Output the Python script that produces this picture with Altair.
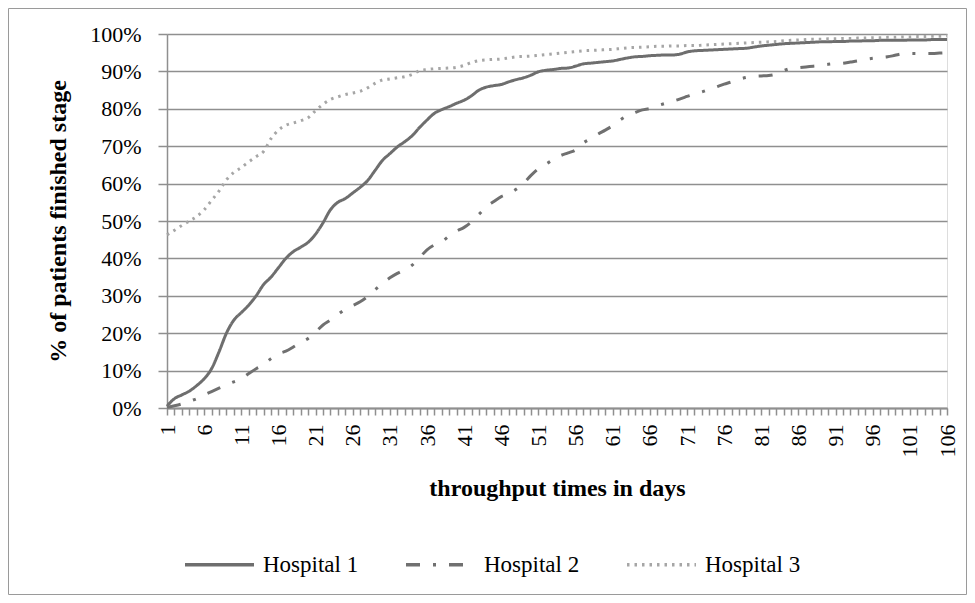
import altair as alt
import pandas as pd

# ---------------- data (in %) ----------------
days = list(range(1, 107))
series_names = ["Hospital 1", "Hospital 2", "Hospital 3"]

hospital_1 = [
    0.5, 2.5, 3.5, 4.5, 6.0, 7.8, 10.5, 15.0, 20.0, 23.5,
    25.5, 27.5, 30.0, 33.0, 35.0, 37.5, 40.0, 41.8, 43.0, 44.3,
    46.5, 49.5, 53.0, 55.0, 56.0, 57.5, 59.0, 60.8, 63.5, 66.2,
    68.0, 69.8, 71.2, 72.8, 75.0, 77.0, 78.8, 79.8, 80.6, 81.5,
    82.3, 83.5, 85.0, 85.8, 86.2, 86.5, 87.2, 87.8, 88.3, 89.0,
    89.9, 90.3, 90.5, 90.8, 90.9, 91.4, 92.0, 92.2, 92.4, 92.6,
    92.8, 93.2, 93.6, 93.9, 94.0, 94.2, 94.3, 94.4, 94.4, 94.6,
    95.2, 95.5, 95.6, 95.7, 95.8, 95.9, 96.0, 96.1, 96.2, 96.5,
    96.8, 97.0, 97.2, 97.4, 97.5, 97.6, 97.7, 97.8, 97.9, 97.9,
    98.0, 98.0, 98.1, 98.1, 98.2, 98.2, 98.3, 98.3, 98.3, 98.3,
    98.4, 98.4, 98.4, 98.5, 98.5, 98.5,
]
hospital_2 = [
    0.2, 0.6, 1.1, 1.8, 2.5, 3.5, 4.4, 5.3, 6.2, 7.0,
    7.8, 9.2, 10.5, 11.5, 13.2, 14.5, 15.2, 16.3, 17.5, 18.6,
    20.3, 22.2, 23.5, 25.0, 26.4, 27.4, 28.4, 29.8, 31.6, 33.3,
    34.8, 36.0, 37.0, 38.2, 40.2, 42.3, 43.6, 44.5, 46.0, 47.3,
    48.3, 49.8, 51.8, 53.8, 55.2, 56.5, 57.3, 58.5, 60.1, 62.2,
    64.0, 65.2, 66.4, 67.5, 68.2, 69.0, 70.8, 72.0, 73.2, 74.3,
    75.5, 77.0, 78.2, 79.0, 79.7, 80.1, 80.8, 81.4, 82.0, 82.6,
    83.3, 84.0, 84.5, 85.2, 85.9, 86.6, 87.2, 87.9, 88.4, 88.7,
    88.8, 88.9, 89.3, 90.2, 90.8, 91.0, 91.2, 91.4, 91.6, 91.9,
    92.1, 92.2, 92.5, 92.8, 93.2, 93.5, 93.7, 93.9, 94.3, 94.7,
    94.8, 94.8, 94.8, 94.8, 94.9, 95.0,
]
hospital_3 = [
    46.3, 47.5, 48.8, 50.0, 51.2, 53.0, 55.5, 58.0, 61.0, 63.0,
    64.3, 65.8, 67.2, 68.6, 72.0, 74.3, 75.6, 76.2, 76.8, 77.6,
    79.5, 81.2, 82.5, 83.2, 83.8, 84.2, 84.7, 85.6, 86.8, 87.7,
    88.0, 88.3, 88.6, 89.2, 90.2, 90.5, 90.7, 90.8, 90.9, 91.1,
    91.6, 92.4, 92.9, 93.1, 93.2, 93.3, 93.6, 93.9, 94.0, 94.1,
    94.3, 94.5, 94.7, 94.9, 95.1, 95.3, 95.5, 95.6, 95.7, 95.8,
    95.9, 96.1, 96.3, 96.4, 96.5, 96.6, 96.7, 96.7, 96.8, 96.8,
    96.9, 96.9, 97.0, 97.1, 97.2, 97.3, 97.4, 97.5, 97.6, 97.7,
    97.8, 97.9, 98.0, 98.2, 98.3, 98.4, 98.5, 98.6, 98.6, 98.7,
    98.7, 98.8, 98.8, 98.9, 98.9, 99.0, 99.0, 99.1, 99.1, 99.2,
    99.2, 99.3, 99.3, 99.4, 99.4, 99.5,
]
y_ticks = [i / 10 for i in range(11)]

rows = []
for name, vals in zip(series_names, [hospital_1, hospital_2, hospital_3]):
    for d, v in zip(days, vals):
        rows.append({"day": d, "share": v / 100.0, "series": name})
df = pd.DataFrame(rows)

FONT = "Liberation Serif"
GRID = "#8f8f8f"
line_colors = ["#6e6e6e", "#707070", "#a6a6a6"]
line_dashes = [[1, 0], [14, 13, 3, 13], [2.5, 5]]

legend = alt.Legend(
    title=None, orient="none", legendX=16, legendY=494, direction="horizontal",
    symbolType="stroke", symbolSize=4761, symbolStrokeWidth=3.5,
    labelFont=FONT, labelFontSize=23, labelColor="black", labelOffset=7,
    columnPadding=40, padding=0,
)

lines = alt.Chart(df).mark_line(strokeWidth=3, interpolate="monotone", strokeJoin="round").encode(
    x=alt.X(
        "day:Q",
        scale=alt.Scale(domain=[1, 106], nice=False, zero=False),
        axis=alt.Axis(
            title="throughput times in days", values=days,
            labelExpr="(datum.value - 1) % 5 == 0 ? datum.value : ''",
            labelAngle=270, labelAlign="right", labelBaseline="middle",
            labelFont=FONT, labelFontSize=22, labelColor="black", labelPadding=9,
            labelOverlap=False, labelFlush=False,
            grid=False, tickSize=7, tickColor=GRID, tickWidth=1.5,
            domainColor=GRID, domainWidth=2,
            titleFont=FONT, titleFontSize=24, titleFontWeight="bold", titleColor="black",
            titleY=68, titleBaseline="top",
        ),
    ),
    y=alt.Y(
        "share:Q",
        scale=alt.Scale(domain=[0, 1], nice=False),
        axis=alt.Axis(
            title="% of patients finished stage", values=y_ticks, format=".0%",
            labelFont=FONT, labelFontSize=22, labelColor="black", labelPadding=17,
            tickSize=9, tickColor=GRID, tickWidth=1.5,
            domainColor=GRID, domainWidth=1.5,
            grid=True, gridColor=GRID, gridWidth=1.5,
            titleFont=FONT, titleFontSize=24, titleFontWeight="bold", titleColor="black",
            titleX=-109, titleBaseline="middle",
        ),
    ),
    color=alt.Color("series:N", scale=alt.Scale(domain=series_names, range=line_colors), legend=legend),
    strokeDash=alt.StrokeDash("series:N", scale=alt.Scale(domain=series_names, range=line_dashes), legend=legend),
)

border = alt.Chart(alt.Data(values=[{"frame": 1}])).mark_rect(
    filled=False, stroke="#9a9a9a", strokeWidth=1
).encode(
    x=alt.value(-158.5), x2=alt.value(799.5), y=alt.value(-25.5), y2=alt.value(560.5)
)

chart = alt.layer(border, lines).properties(
    width=780, height=374,
    autosize=alt.AutoSizeParams(type="none"),
    padding={"left": 159, "top": 26, "right": 20, "bottom": 187},
).configure_view(stroke=None).configure(background="white")

chart.save("out.html", embed_options={"renderer": "svg", "actions": False})
